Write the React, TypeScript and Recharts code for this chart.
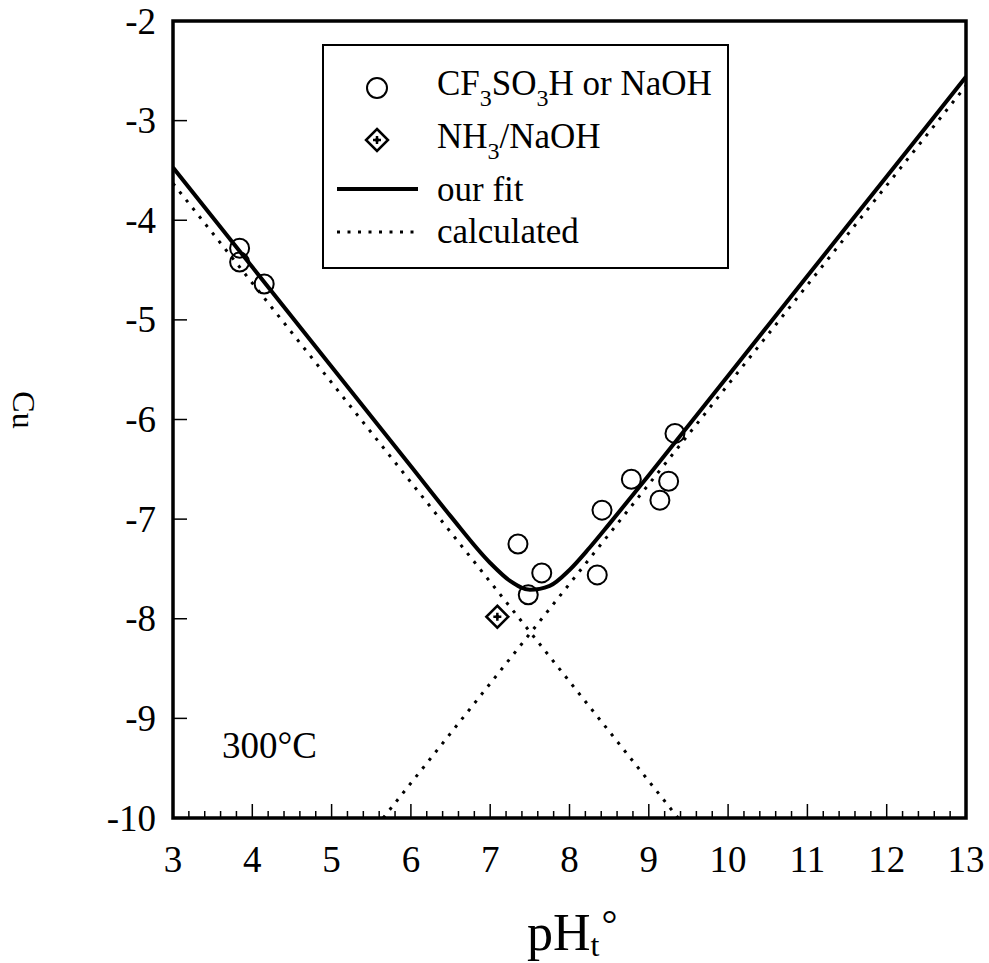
import React from 'react';
import { ComposedChart, Line, Scatter, XAxis, YAxis, ReferenceArea } from 'recharts';

const FONT = 'Liberation Serif, Times New Roman, serif';
const serif = { fontFamily: FONT };

// tick labels
const xMajor = [3, 4, 5, 6, 7, 8, 9, 10, 11, 12, 13];
const yMajor = [-10, -9, -8, -7, -6, -5, -4, -3, -2];
// minor ticks every 0.2 on the x axis
const xTicks = xMajor.flatMap((v, i) =>
  i === xMajor.length - 1 ? [v] : [v, v + 0.2, v + 0.4, v + 0.6, v + 0.8].map((t) => Math.round(t * 10) / 10)
);

// CF3SO3H or NaOH runs
const acidBase = [
  { x: 3.84, y: -4.28 },
  { x: 3.84, y: -4.42 },
  { x: 4.15, y: -4.64 },
  { x: 7.35, y: -7.25 },
  { x: 7.48, y: -7.76 },
  { x: 7.65, y: -7.54 },
  { x: 8.35, y: -7.56 },
  { x: 8.41, y: -6.91 },
  { x: 8.78, y: -6.6 },
  { x: 9.14, y: -6.81 },
  { x: 9.25, y: -6.62 },
  { x: 9.33, y: -6.14 },
];

// NH3/NaOH run
const ammonia = [{ x: 7.09, y: -7.98 }];

// our fit
const fitCurve = [
  { x: 3, y: -3.47 },
  { x: 4, y: -4.47 },
  { x: 5, y: -5.47 },
  { x: 6, y: -6.47 },
  { x: 6.5, y: -6.97 },
  { x: 7.0, y: -7.44 },
  { x: 7.25, y: -7.62 },
  { x: 7.5, y: -7.71 },
  { x: 7.75, y: -7.67 },
  { x: 8.0, y: -7.51 },
  { x: 8.25, y: -7.29 },
  { x: 8.5, y: -7.05 },
  { x: 9, y: -6.56 },
  { x: 10, y: -5.56 },
  { x: 11, y: -4.56 },
  { x: 12, y: -3.56 },
  { x: 13, y: -2.56 },
];

// calculated (two limiting lines)
const calcAcid = [
  { x: 3, y: -3.63 },
  { x: 9.37, y: -10 },
];
const calcBase = [
  { x: 5.65, y: -10 },
  { x: 13, y: -2.65 },
];

function Ring({ cx, cy }: any) {
  return <circle cx={cx} cy={cy} r={9.5} fill="none" stroke="#000" strokeWidth={2} />;
}

function Diamond({ cx, cy }: any) {
  const h = 11;
  return (
    <g>
      <polygon
        points={`${cx},${cy - h} ${cx + h},${cy} ${cx},${cy + h} ${cx - h},${cy}`}
        fill="#fff"
        stroke="#000"
        strokeWidth={2.5}
      />
      <line x1={cx - 4} x2={cx + 4} y1={cy} y2={cy} stroke="#000" strokeWidth={2.5} />
      <line x1={cx} x2={cx} y1={cy - 4} y2={cy + 4} stroke="#000" strokeWidth={2.5} />
      <circle cx={cx} cy={cy} r={2} fill="#000" />
    </g>
  );
}

function BottomTick({ x, y, payload }: any) {
  const v = payload.value;
  const major = Number.isInteger(v);
  return (
    <g>
      <line x1={x} x2={x} y1={y} y2={y - (major ? 14 : 7)} stroke="#000" strokeWidth={1.5} />
      {major && (
        <text x={x} y={y + 54} textAnchor="middle" fontSize={37} style={serif} fill="#000">
          {v}
        </text>
      )}
    </g>
  );
}

function TopTick({ x, y, payload }: any) {
  const major = Number.isInteger(payload.value);
  return <line x1={x} x2={x} y1={y} y2={y + (major ? 14 : 7)} stroke="#000" strokeWidth={1.5} />;
}

function LeftTick({ x, y, payload }: any) {
  return (
    <g>
      <line x1={x} x2={x + 14} y1={y} y2={y} stroke="#000" strokeWidth={1.5} />
      <text x={x - 17} y={y + 12.5} textAnchor="end" fontSize={37} style={serif} fill="#000">
        {payload.value}
      </text>
    </g>
  );
}

function RightTick({ x, y }: any) {
  return <line x1={x} x2={x - 14} y1={y} y2={y} stroke="#000" strokeWidth={1.5} />;
}

export default function App() {
  return (
    <div style={{ position: 'absolute', left: 0, top: 0, width: 989, height: 963, background: '#fff', fontFamily: FONT }}>
      <ComposedChart width={989} height={963} margin={{ top: 1, right: 3, bottom: 85, left: 113 }}>
        <XAxis
          dataKey="x"
          type="number"
          domain={[3, 13]}
          ticks={xTicks}
          interval={0}
          allowDataOverflow
          axisLine={false}
          tickLine={false}
          tickSize={0}
          tickMargin={0}
          height={60}
          tick={<BottomTick />}
        />
        <XAxis
          xAxisId="top"
          orientation="top"
          type="number"
          domain={[3, 13]}
          ticks={xTicks}
          interval={0}
          axisLine={false}
          tickLine={false}
          tickSize={0}
          tickMargin={0}
          height={20}
          tick={<TopTick />}
        />
        <YAxis
          dataKey="y"
          type="number"
          domain={[-10, -2]}
          ticks={yMajor}
          interval={0}
          allowDataOverflow
          axisLine={false}
          tickLine={false}
          tickSize={0}
          tickMargin={0}
          width={60}
          tick={<LeftTick />}
        />
        <YAxis
          yAxisId="right"
          orientation="right"
          type="number"
          domain={[-10, -2]}
          ticks={yMajor}
          interval={0}
          axisLine={false}
          tickLine={false}
          tickSize={0}
          tickMargin={0}
          width={20}
          tick={<RightTick />}
        />
        <ReferenceArea x1={3} x2={13} y1={-10} y2={-2} fill="none" stroke="#000" strokeWidth={3.5} />
        <Line data={calcAcid} dataKey="y" stroke="#000" strokeWidth={3} strokeDasharray="3 7.5" dot={false} isAnimationActive={false} />
        <Line data={calcBase} dataKey="y" stroke="#000" strokeWidth={3} strokeDasharray="3 7.5" dot={false} isAnimationActive={false} />
        <Line data={fitCurve} dataKey="y" type="monotone" stroke="#000" strokeWidth={4} dot={false} isAnimationActive={false} />
        <Scatter data={acidBase} dataKey="y" shape={<Ring />} isAnimationActive={false} />
        <Scatter data={ammonia} dataKey="y" shape={<Diamond />} isAnimationActive={false} />
      </ComposedChart>

      <svg
        width={989}
        height={963}
        style={{ position: 'absolute', left: 0, top: 0, pointerEvents: 'none', fontFamily: FONT }}
      >
        {/* legend */}
        <rect x={323} y={45} width={405} height={223} fill="#fff" stroke="#000" strokeWidth={2} />
        <circle cx={377} cy={88} r={10} fill="none" stroke="#000" strokeWidth={2} />
        <text x={437} y={95} fontSize={35} style={serif}>
          CF<tspan fontSize={24} dy={11}>3</tspan>
          <tspan dy={-11}>SO</tspan>
          <tspan fontSize={24} dy={11}>3</tspan>
          <tspan dy={-11}>H or NaOH</tspan>
        </text>
        <Diamond cx={377} cy={140} />
        <text x={437} y={148} fontSize={35} style={serif}>
          NH<tspan fontSize={24} dy={11}>3</tspan>
          <tspan dy={-11}>/NaOH</tspan>
        </text>
        <line x1={337} x2={418} y1={189} y2={189} stroke="#000" strokeWidth={4} />
        <text x={437} y={201} fontSize={35} style={serif}>our fit</text>
        <line x1={337} x2={415} y1={232} y2={232} stroke="#000" strokeWidth={3} strokeDasharray="3 7.5" />
        <text x={437} y={243} fontSize={35} style={serif}>calculated</text>

        {/* annotation */}
        <text x={222} y={758} fontSize={37} style={serif}>300°C</text>

        {/* axis titles */}
        <text x={527} y={950} fontSize={52} style={serif}>
          pH<tspan fontSize={32} dy={6}>t</tspan>
          <tspan fontSize={40} dx={2} dy={-18}>°</tspan>
        </text>
        <text x={13} y={410} fontSize={32} textAnchor="middle" transform="rotate(90 13 410)" style={serif}>
          Cu
        </text>
      </svg>
    </div>
  );
}
